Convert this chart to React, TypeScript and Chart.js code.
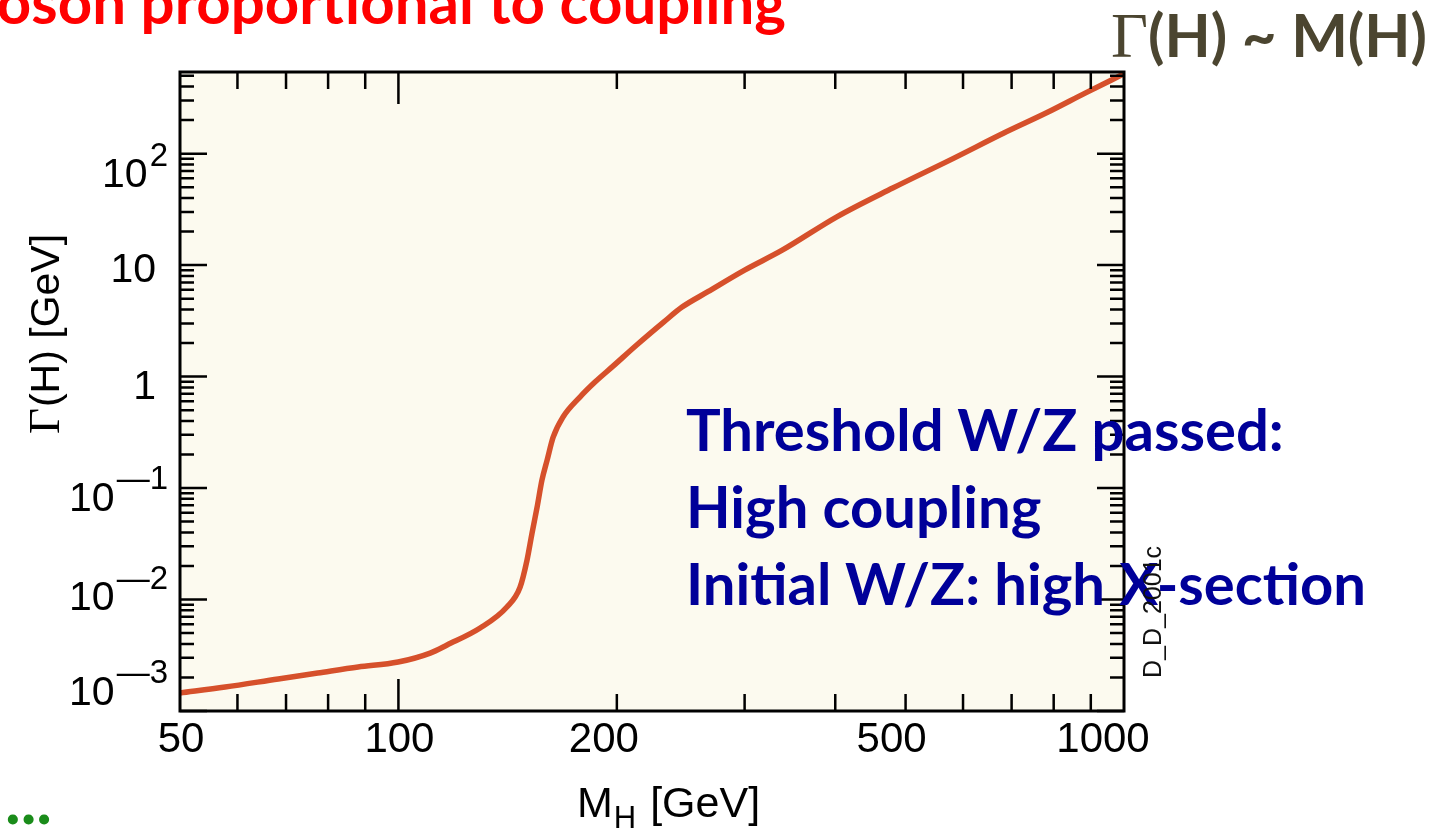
import React, { useEffect, useRef } from "react";
import { Chart, registerables } from "chart.js";

Chart.register(...registerables);

// ---- data (Higgs total width vs mass) ----
const higgsMassGeV = [
  50, 57.7, 68.3, 77.4, 88, 99.9, 110.6, 116.7, 129.6, 141.1, 147.1, 150.4, 152.8,
  155.3, 157.7, 160.3, 163.4, 168.6, 177.9, 186.6, 197.6, 213, 232, 246, 267, 300,
  338, 402, 480, 583, 683, 786, 884, 1000,
];
const higgsWidthGeV = [
  1.45e-3, 1.64e-3, 1.94e-3, 2.19e-3, 2.48e-3, 2.75e-3, 3.31e-3, 3.91e-3, 5.55e-3,
  8.57e-3, 1.29e-2, 2.26e-2, 3.94e-2, 6.76e-2, 0.118, 0.178, 0.286, 0.434, 0.655,
  0.893, 1.24, 1.92, 3.08, 4.2, 5.77, 9.02, 13.6, 27.1, 49.1, 91.2, 153, 236, 349, 521,
];

const xLabelValues = [50, 100, 200, 500, 1000];
const xLabelTexts = ["50", "100", "200", "500", "1000"];
const xTickValues = [60, 70, 80, 90, 100, 200, 300, 400, 500, 600, 700, 800, 900];
const xLongTickValues = [100];

const yDecadeValues = [100, 10, 1, 0.1, 0.01, 0.001];
const yLabelBase = ["10", "10", "1", "10", "10", "10"];
const yLabelSup = ["2", "", "", "\u20141", "\u20142", "\u20143"];
const yMinorMultipliers = [2, 3, 4, 5, 6, 7, 8, 9];

const X_MIN = 50;
const X_MAX = 1000;
const Y_MIN = 1e-3;
const Y_MAX = 540;

// ---- styling / layout constants ----
const W = 1443;
const H = 829;
const PLOT_BG = "#FCFAEF";
const LINE_COLOR = "#D6502B";
const AXIS_FONT = '"Liberation Sans", Arial, Helvetica, sans-serif';
const SERIF_FONT = '"Liberation Serif", "Times New Roman", serif';
const SLIDE_FONT = 'Lato, "Open Sans", sans-serif';
const xLabelDx = [1, 1, -13, -14, -21];
const yLabelDy = [19, 2, 8, 8, -4, -21];

const axisPlugin = {
  id: "physAxes",
  beforeDatasetsDraw(chart: any) {
    const { ctx, chartArea: a } = chart;
    ctx.save();
    ctx.fillStyle = PLOT_BG;
    ctx.fillRect(a.left, a.top, a.right - a.left, a.bottom - a.top);
    ctx.restore();
  },
  afterDatasetsDraw(chart: any) {
    const { ctx, chartArea: a, scales } = chart;
    const xs = scales.x;
    const ys = scales.y;
    ctx.save();
    ctx.strokeStyle = "#000";
    ctx.lineWidth = 2.5;
    ctx.beginPath();
    for (const v of xTickValues) {
      const px = xs.getPixelForValue(v);
      const len = xLongTickValues.includes(v) ? 32 : 17;
      ctx.moveTo(px, a.bottom);
      ctx.lineTo(px, a.bottom - len);
      ctx.moveTo(px, a.top);
      ctx.lineTo(px, a.top + len);
    }
    for (const d of yDecadeValues) {
      for (const k of [1, ...yMinorMultipliers]) {
        const v = d * k;
        if (v < Y_MIN || v > Y_MAX) continue;
        const py = ys.getPixelForValue(v);
        const len = k === 1 ? 27 : 14;
        ctx.moveTo(a.left, py);
        ctx.lineTo(a.left + len, py);
        ctx.moveTo(a.right, py);
        ctx.lineTo(a.right - len, py);
      }
    }
    ctx.stroke();
    ctx.lineWidth = 3;
    ctx.strokeRect(a.left, a.top, a.right - a.left, a.bottom - a.top);

    // x tick labels
    ctx.fillStyle = "#000";
    ctx.textBaseline = "alphabetic";
    ctx.textAlign = "center";
    ctx.font = `42px ${AXIS_FONT}`;
    xLabelValues.forEach((v, i) => {
      ctx.fillText(xLabelTexts[i], xs.getPixelForValue(v) + xLabelDx[i], a.bottom + 41);
    });

    // y tick labels (base + superscript)
    yDecadeValues.forEach((v, i) => {
      const cy = ys.getPixelForValue(v) + yLabelDy[i];
      const sup = yLabelSup[i];
      ctx.font = `41px ${AXIS_FONT}`;
      if (!sup) {
        ctx.textAlign = "right";
        ctx.fillText(yLabelBase[i], a.left - 24, cy + 14.5);
      } else {
        ctx.font = `33px ${AXIS_FONT}`;
        const sw = ctx.measureText(sup).width;
        const right = a.left - 12;
        ctx.textAlign = "left";
        ctx.fillText(sup, right - sw, cy - 19 + 12);
        ctx.font = `41px ${AXIS_FONT}`;
        ctx.textAlign = "right";
        ctx.fillText(yLabelBase[i], right - sw - 2, cy + 14.5);
      }
    });

    // x axis title: M_H [GeV]
    ctx.textAlign = "left";
    ctx.font = `43px ${AXIS_FONT}`;
    const tx = a.left + 397;
    ctx.fillText("M", tx, a.bottom + 106);
    const mW = ctx.measureText("M").width;
    ctx.font = `31px ${AXIS_FONT}`;
    ctx.fillText("H", tx + mW + 1, a.bottom + 117);
    const hW = ctx.measureText("H").width;
    ctx.font = `43px ${AXIS_FONT}`;
    ctx.fillText(" [GeV]", tx + mW + hW + 3, a.bottom + 106);

    // y axis title: Γ(H) [GeV]
    ctx.save();
    ctx.translate(a.left - 121, (a.top + a.bottom) / 2 - 57);
    ctx.rotate(-Math.PI / 2);
    ctx.font = `45px ${SERIF_FONT}`;
    const gW = ctx.measureText("\u0393").width;
    ctx.font = `41px ${AXIS_FONT}`;
    const rest = "(H) [GeV]";
    const rW = ctx.measureText(rest).width;
    const start = -(gW + rW) / 2;
    ctx.font = `45px ${SERIF_FONT}`;
    ctx.fillText("\u0393", start, 0);
    ctx.font = `41px ${AXIS_FONT}`;
    ctx.fillText(rest, start + gW + 1, 0);
    ctx.restore();

    ctx.restore();
  },
};

function SlideText(props: {
  text: string;
  left?: number;
  right?: number;
  baseline: number;
  size: number;
  color: string;
  family?: string;
  weight?: number;
}) {
  const { text, left, right, baseline, size, color, family, weight } = props;
  const style: React.CSSProperties = {
    position: "absolute",
    top: baseline - 0.887 * size,
    fontFamily: family || SLIDE_FONT,
    fontWeight: weight ?? 700,
    fontSize: size,
    lineHeight: `${size}px`,
    color,
    whiteSpace: "nowrap",
  };
  if (left !== undefined) style.left = left;
  if (right !== undefined) style.right = W - right;
  return <div style={style}>{text}</div>;
}

export default function App() {
  const canvasRef = useRef<HTMLCanvasElement>(null);

  useEffect(() => {
    const canvas = canvasRef.current;
    if (!canvas) return;
    const chart = new Chart(canvas, {
      type: "line",
      data: {
        datasets: [
          {
            data: higgsMassGeV.map((m, i) => ({ x: m, y: higgsWidthGeV[i] })),
            borderColor: LINE_COLOR,
            borderWidth: 5.5,
            pointRadius: 0,
            fill: false,
            cubicInterpolationMode: "monotone",
            borderCapStyle: "round",
          },
        ],
      },
      options: {
        animation: false,
        responsive: false,
        devicePixelRatio: 1,
        events: [],
        layout: { padding: { left: 180, right: W - 1124, top: 72, bottom: H - 711 } },
        plugins: {
          legend: { display: false },
          tooltip: { enabled: false },
          title: { display: false },
        },
        scales: {
          x: { type: "logarithmic", min: X_MIN, max: X_MAX, display: false },
          y: { type: "logarithmic", min: Y_MIN, max: Y_MAX, display: false },
        },
      },
      plugins: [axisPlugin],
    } as any);
    return () => chart.destroy();
  }, []);

  return (
    <div
      style={{
        position: "absolute",
        left: 0,
        top: 0,
        width: W,
        height: H,
        overflow: "hidden",
        background: "#ffffff",
      }}
    >
      <canvas
        ref={canvasRef}
        width={W}
        height={H}
        style={{ position: "absolute", left: 0, top: 0, width: W, height: H }}
      />
      <SlideText text="Boson proportional to coupling" right={786} baseline={24} size={60} color="#FF0000" />
      <div
        style={{
          position: "absolute",
          left: 1111,
          top: 57 - 0.887 * 60,
          fontSize: 60,
          lineHeight: "60px",
          color: "#4B4530",
          whiteSpace: "nowrap",
          fontFamily: SLIDE_FONT,
          fontWeight: 700,
        }}
      >
        <span style={{ fontFamily: SERIF_FONT, fontWeight: 400, fontSize: 64 }}>{"\u0393"}</span>
        {"(H) ~ M(H)"}
      </div>
      <SlideText text="Threshold W/Z passed:" left={686} baseline={451} size={58} color="#000099" />
      <SlideText text="High coupling" left={686} baseline={528} size={58} color="#000099" />
      <SlideText text="Initial W/Z: high X-section" left={686} baseline={605} size={58} color="#000099" />
      <SlideText text="..." left={5} baseline={825} size={66} color="#1A8C1A" />
      <div
        style={{
          position: "absolute",
          left: 1139,
          top: 546,
          width: 27,
          writingMode: "vertical-rl",
          transform: "rotate(180deg)",
          fontFamily: AXIS_FONT,
          fontSize: 25,
          lineHeight: "27px",
          color: "#111",
          whiteSpace: "nowrap",
        }}
      >
        D_D_2001c
      </div>
    </div>
  );
}
